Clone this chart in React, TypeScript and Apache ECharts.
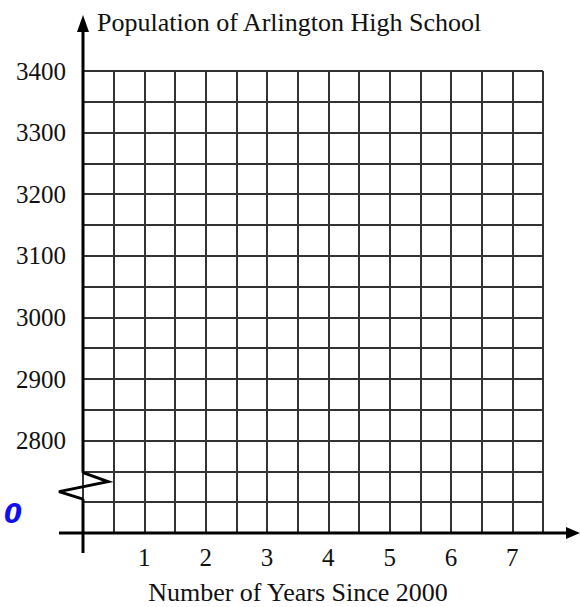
import React, { useEffect, useRef } from "react";
import * as echarts from "echarts";

const TITLE = "Population of Arlington High School";
const X_NAME = "Number of Years Since 2000";
const xLabels = [1, 2, 3, 4, 5, 6, 7];
const yLabels = [2800, 2900, 3000, 3100, 3200, 3300, 3400];
const xRange = [0, 7.5];
const xStep = 0.5;
const yRange = [2650, 3400];
const yStep = 50;
const breakRange = [2705, 2748];
const originMark = "0";

export default function App() {
  const ref = useRef<HTMLDivElement>(null);
  useEffect(() => {
    document.body.style.margin = "0";
    const chart = echarts.init(ref.current as HTMLDivElement, null, { renderer: "svg" });
    const font = "'Liberation Serif', 'Times New Roman', serif";
    const gridColor = "#333";
    chart.setOption({
      animation: false,
      grid: { left: 83, right: 37, top: 71, bottom: 74 },
      xAxis: {
        type: "value",
        min: xRange[0],
        max: xRange[1],
        interval: xStep,
        axisLine: { show: false },
        axisTick: { show: false },
        splitLine: { show: true, lineStyle: { color: gridColor, width: 2 } },
        axisLabel: {
          margin: 12,
          fontSize: 25,
          fontFamily: font,
          color: "#111",
          showMinLabel: true,
          showMaxLabel: true,
          formatter: (v: number) => (xLabels.includes(v) ? String(v) : ""),
        },
      },
      yAxis: {
        type: "value",
        min: yRange[0],
        max: yRange[1],
        interval: yStep,
        axisLine: { show: false },
        axisTick: { show: false },
        splitLine: { show: true, lineStyle: { color: gridColor, width: 2 } },
        axisLabel: {
          margin: 17,
          fontSize: 25,
          fontFamily: font,
          color: "#111",
          showMinLabel: true,
          showMaxLabel: true,
          formatter: (v: number) => (yLabels.includes(v) ? String(v) : ""),
        },
      },
      series: [{ type: "line", data: [] }],
    });

    const p = (x: number, y: number) => chart.convertToPixel({ gridIndex: 0 }, [x, y]) as number[];
    const origin = p(xRange[0], yRange[0]);
    const ax = origin[0];
    const ay = origin[1];
    const right = p(xRange[1], yRange[0])[0];
    const b1 = p(0, breakRange[1])[1];
    const b2 = p(0, breakRange[0])[1];
    const axisStyle = { stroke: "#000", lineWidth: 3 };

    chart.setOption({
      graphic: [
        { type: "line", shape: { x1: ax, y1: 28, x2: ax, y2: b1 }, style: axisStyle, z: 10 },
        { type: "polygon", shape: { points: [[ax, 15], [ax - 6, 32], [ax + 6, 32]] }, style: { fill: "#000" }, z: 10 },
        {
          type: "polyline",
          shape: { points: [[ax, b1], [ax + 25, b1 + 9], [ax - 24, b1 + 19], [ax, b2]] },
          style: { stroke: "#000", lineWidth: 3, fill: null },
          z: 10,
        },
        { type: "line", shape: { x1: ax, y1: b2, x2: ax, y2: ay + 20 }, style: axisStyle, z: 10 },
        { type: "line", shape: { x1: ax - 24, y1: ay, x2: right + 25, y2: ay }, style: axisStyle, z: 10 },
        { type: "polygon", shape: { points: [[right + 37, ay], [right + 23, ay - 6], [right + 23, ay + 6]] }, style: { fill: "#000" }, z: 10 },
        {
          type: "text",
          x: ax + 14,
          y: 22,
          style: { text: TITLE, fontSize: 26, fontFamily: font, fill: "#111", textAlign: "left", textVerticalAlign: "middle" },
          z: 10,
        },
        {
          type: "text",
          x: 298,
          y: 592,
          style: { text: X_NAME, fontSize: 26, fontFamily: font, fill: "#111", textAlign: "center", textVerticalAlign: "middle" },
          z: 10,
        },
        {
          type: "text",
          x: 13,
          y: 514,
          style: {
            text: originMark,
            fontSize: 26,
            fontWeight: "bold",
            fontStyle: "italic",
            fontFamily: "'DejaVu Sans', sans-serif",
            fill: "#1010ee",
            textAlign: "center",
            textVerticalAlign: "middle",
          },
          z: 10,
        },
      ],
    });

    return () => chart.dispose();
  }, []);
  return <div ref={ref} style={{ width: 580, height: 607 }} />;
}
